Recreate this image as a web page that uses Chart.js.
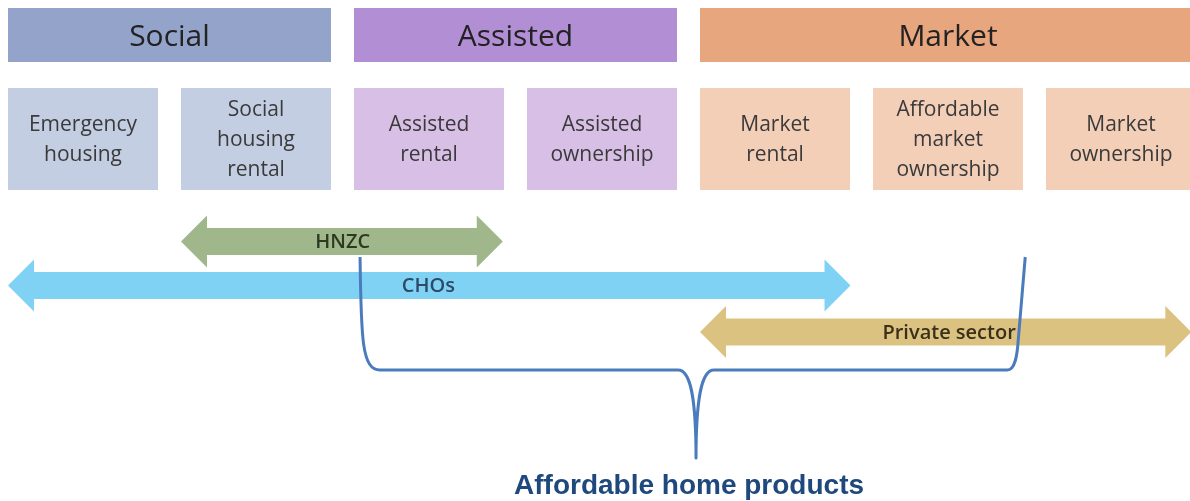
<!DOCTYPE html>
<html><head><meta charset="utf-8">
<script src="https://cdn.jsdelivr.net/npm/chart.js@4.4.1/dist/chart.umd.min.js"></script>
<style>html,body{margin:0;padding:0;background:#fff;overflow:hidden}canvas{display:block}</style>
</head><body>
<canvas id="c" width="1190" height="501"></canvas>
<script>
// Continuum units: product i occupies [i, i+0.867]
const groupLabels = ['Social', 'Assisted', 'Market'];
const groupFrom = [0, 2, 4];
const groupTo = [1.867, 3.867, 6.867];
const productLabels = [['Emergency','housing'], ['Social','housing','rental'], ['Assisted','rental'], ['Assisted','ownership'], ['Market','rental'], ['Affordable','market','ownership'], ['Market','ownership']];
const productGroup = [0, 0, 1, 1, 2, 2, 2];
const productFrom = [0, 1, 2, 3, 4, 5, 6];
const productTo = [0.867, 1.867, 2.867, 3.867, 4.867, 5.867, 6.867];
const providerLabels = ['HNZC', 'CHOs', 'Private sector'];
const providerFrom = [1.0, 0.0, 4.0];
const providerTo = [2.86, 4.87, 6.84];
const providerLabelAt = [1.935, 2.43, 5.44];
const bracketLabel = 'Affordable home products';
const bracketFrom = 2.035, bracketTip = 3.977, bracketTo = 5.88;

const groupColors = ['#94a3ca', '#b28ed4', '#e8a67e'];
const productColors = ['#c4cee2', '#d8bfe6', '#f3cfb8'];
const providerColors = ['#a0b78c', '#7fd2f3', '#dcc280'];
const providerText = ['#2c3a22', '#2d4a68', '#3a2f1a'];
const providerY = [241.5, 285.5, 332];

const diagram = {
  id: 'diagram',
  beforeDraw(chart) {
    const c = chart.ctx;
    c.save(); c.fillStyle = '#fff'; c.fillRect(0, 0, chart.width, chart.height); c.restore();
  },
  afterDatasetsDraw(chart) {
    const c = chart.ctx;
    const X = v => chart.scales.x.getPixelForValue(v);
    const Y = v => chart.scales.y.getPixelForValue(v);
    c.save();
    c.textAlign = 'center'; c.textBaseline = 'middle';
    // group headers
    groupLabels.forEach((g, i) => {
      const x1 = X(groupFrom[i]), x2 = X(groupTo[i]);
      c.fillStyle = groupColors[i];
      c.fillRect(x1, Y(8), x2 - x1, Y(62) - Y(8));
      c.fillStyle = '#222';
      c.font = '30px "Open Sans"';
      c.fillText(g, (x1 + x2) / 2, Y(37));
    });
    // product boxes
    productLabels.forEach((lines, i) => {
      const x1 = X(productFrom[i]), x2 = X(productTo[i]);
      c.fillStyle = productColors[productGroup[i]];
      c.fillRect(x1, Y(88), x2 - x1, Y(190) - Y(88));
      c.fillStyle = '#3a3a3a';
      c.font = '21px "Open Sans"';
      const n = lines.length;
      lines.forEach((t, k) => c.fillText(t, (x1 + x2) / 2, Y(140 - (n - 1) * 15 + k * 30)));
    });
    // provider arrows
    providerLabels.forEach((p, i) => {
      const x1 = X(providerFrom[i]), x2 = X(providerTo[i]);
      const cy = Y(providerY[i]);
      const sh = 13.5, hh = 26, hl = 26;
      c.fillStyle = providerColors[i];
      c.beginPath();
      c.moveTo(x1, cy);
      c.lineTo(x1 + hl, cy - hh);
      c.lineTo(x1 + hl, cy - sh);
      c.lineTo(x2 - hl, cy - sh);
      c.lineTo(x2 - hl, cy - hh);
      c.lineTo(x2, cy);
      c.lineTo(x2 - hl, cy + hh);
      c.lineTo(x2 - hl, cy + sh);
      c.lineTo(x1 + hl, cy + sh);
      c.lineTo(x1 + hl, cy + hh);
      c.closePath();
      c.fill();
      c.fillStyle = providerText[i];
      c.font = '600 20px "Open Sans"';
      c.fillText(p, X(providerLabelAt[i]), cy + 1);
    });
    // bracket
    const L = X(bracketFrom), T = X(bracketTip), R = X(bracketTo);
    const top = Y(257), hy = Y(370), tipY = Y(458);
    c.strokeStyle = '#4a7cbd'; c.lineWidth = 3; c.lineJoin = 'round';
    c.beginPath();
    c.moveTo(L, top);
    c.bezierCurveTo(L + 1, hy - 30, L + 2, hy, L + 20, hy);
    c.lineTo(T - 18, hy);
    c.bezierCurveTo(T - 6, hy, T, hy + 25, T, tipY);
    c.bezierCurveTo(T, hy + 25, T + 6, hy, T + 18, hy);
    c.lineTo(R - 18, hy);
    c.bezierCurveTo(R - 10, hy, R - 8, hy - 15, R - 7, hy - 30);
    c.lineTo(R, top);
    c.stroke();
    c.fillStyle = '#1f497d';
    c.font = 'bold 28px "Liberation Sans", Arial, sans-serif';
    c.fillText(bracketLabel, T - 7, Y(486));
    c.restore();
  }
};

new Chart(document.getElementById('c'), {
  type: 'scatter',
  data: { datasets: [{ data: [], pointRadius: 0 }] },
  options: {
    responsive: false,
    animation: false,
    events: [],
    layout: { padding: 0 },
    plugins: { legend: { display: false }, tooltip: { enabled: false } },
    scales: {
      x: { type: 'linear', min: -8 / 173, max: 1182 / 173, display: false },
      y: { type: 'linear', min: 0, max: 501, reverse: true, display: false }
    }
  },
  plugins: [diagram]
});
</script>
</body></html>
